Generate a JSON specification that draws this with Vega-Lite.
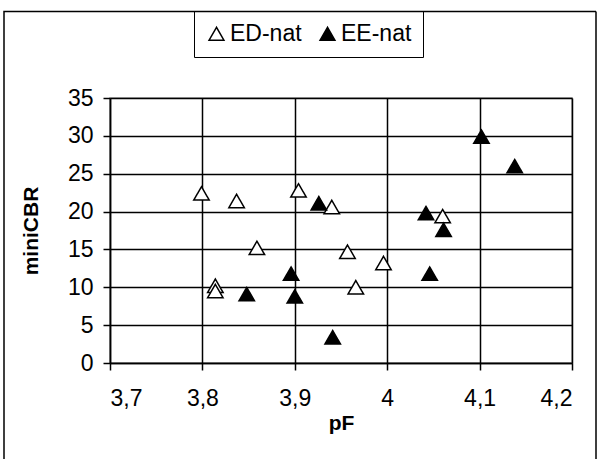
{
  "$schema": "https://vega.github.io/schema/vega-lite/v6.json",
  "width": 462,
  "height": 265,
  "autosize": "none",
  "padding": {"left": 110, "top": 98, "right": 34, "bottom": 96},
  "background": "white",
  "data": {
    "values": [
      {"pF": 3.799, "miniCBR": 22.4, "series": "ED-nat", "frame": "f"},
      {"pF": 3.837, "miniCBR": 21.4, "series": "ED-nat", "frame": "f"},
      {"pF": 3.859, "miniCBR": 15.2, "series": "ED-nat", "frame": "f"},
      {"pF": 3.814, "miniCBR": 10.2, "series": "ED-nat", "frame": "f"},
      {"pF": 3.814, "miniCBR": 9.5, "series": "ED-nat", "frame": "f"},
      {"pF": 3.904, "miniCBR": 22.8, "series": "ED-nat", "frame": "f"},
      {"pF": 3.94, "miniCBR": 20.6, "series": "ED-nat", "frame": "f"},
      {"pF": 3.957, "miniCBR": 14.7, "series": "ED-nat", "frame": "f"},
      {"pF": 3.966, "miniCBR": 10.0, "series": "ED-nat", "frame": "f"},
      {"pF": 3.996, "miniCBR": 13.2, "series": "ED-nat", "frame": "f"},
      {"pF": 4.06, "miniCBR": 19.4, "series": "ED-nat", "frame": "f"},
      {"pF": 3.848, "miniCBR": 9.1, "series": "EE-nat", "frame": "f"},
      {"pF": 3.896, "miniCBR": 11.8, "series": "EE-nat", "frame": "f"},
      {"pF": 3.9, "miniCBR": 8.8, "series": "EE-nat", "frame": "f"},
      {"pF": 3.926, "miniCBR": 21.1, "series": "EE-nat", "frame": "f"},
      {"pF": 3.941, "miniCBR": 3.4, "series": "EE-nat", "frame": "f"},
      {"pF": 4.042, "miniCBR": 19.8, "series": "EE-nat", "frame": "f"},
      {"pF": 4.061, "miniCBR": 17.6, "series": "EE-nat", "frame": "f"},
      {"pF": 4.046, "miniCBR": 11.8, "series": "EE-nat", "frame": "f"},
      {"pF": 4.102, "miniCBR": 29.9, "series": "EE-nat", "frame": "f"},
      {"pF": 4.138, "miniCBR": 26.0, "series": "EE-nat", "frame": "f"}
    ]
  },
  "mark": {"type": "point", "shape": "triangle-up", "size": 240, "stroke": "black", "strokeWidth": 1.5, "filled": false, "opacity": 1},
  "encoding": {
    "x": {
      "field": "pF", "type": "quantitative",
      "scale": {"domain": [3.7, 4.2], "nice": false, "zero": false},
      "axis": {
        "title": "pF",
        "values": [3.7, 3.8, 3.9, 4.0, 4.1, 4.2],
        "labelExpr": "replace(format(datum.value, '.2~f'), '.', ',')",
        "grid": true, "gridColor": "black", "gridOpacity": 1, "gridWidth": 1.5,
        "domainColor": "black", "domainWidth": 1.5,
        "tickColor": "black", "tickSize": 7, "tickWidth": 1.5,
        "labelFont": "Liberation Sans", "labelFontSize": 23, "labelColor": "black",
        "labelPadding": 17,
        "titleFont": "Liberation Sans", "titleFontSize": 21, "titleFontWeight": "bold", "titleColor": "black",
        "titlePadding": 2
      }
    },
    "y": {
      "field": "miniCBR", "type": "quantitative",
      "scale": {"domain": [0, 35], "nice": false},
      "axis": {
        "title": "miniCBR",
        "values": [0, 5, 10, 15, 20, 25, 30, 35],
        "grid": true, "gridColor": "black", "gridOpacity": 1, "gridWidth": 1.5,
        "domainColor": "black", "domainWidth": 1.5,
        "tickColor": "black", "tickSize": 7, "tickWidth": 1.5,
        "labelFont": "Liberation Sans", "labelFontSize": 23, "labelColor": "black",
        "labelPadding": 10,
        "titleFont": "Liberation Sans", "titleFontSize": 21, "titleFontWeight": "bold", "titleColor": "black",
        "titlePadding": 26
      }
    },
    "fill": {
      "field": "series", "type": "nominal",
      "scale": {"domain": ["ED-nat", "EE-nat"], "range": ["#ffffff", "#000000"]},
      "legend": {
        "title": null,
        "orient": "none",
        "legendX": 84,
        "legendY": -87,
        "direction": "horizontal",
        "symbolType": "triangle-up",
        "symbolStrokeColor": "black",
        "symbolStrokeWidth": 1.5,
        "symbolSize": 220,
        "symbolOpacity": 1,
        "labelFont": "Liberation Sans",
        "labelFontSize": 23,
        "labelColor": "black",
        "labelOffset": 2,
        "columnPadding": 14,
        "strokeColor": "black",
        "padding": 11,
        "fillColor": "white"
      }
    },
    "strokeDash": {
      "field": "frame", "type": "nominal",
      "scale": {"domain": ["f"], "range": [[1, 0]]},
      "legend": {
        "title": null,
        "orient": "none",
        "legendX": -107,
        "legendY": -154,
        "padding": 0,
        "symbolType": "M-1,-0.775H1V0.775H-1Z",
        "symbolSize": 350464,
        "symbolStrokeColor": "black",
        "symbolStrokeWidth": 1.5,
        "symbolFillColor": "transparent",
        "symbolOpacity": 1,
        "labelExpr": "''",
        "labelFontSize": 1,
        "labelOffset": 0,
        "zindex": 0
      }
    }
  },
  "config": {
    "view": {"stroke": "#999999", "strokeWidth": 1.5}
  }
}
